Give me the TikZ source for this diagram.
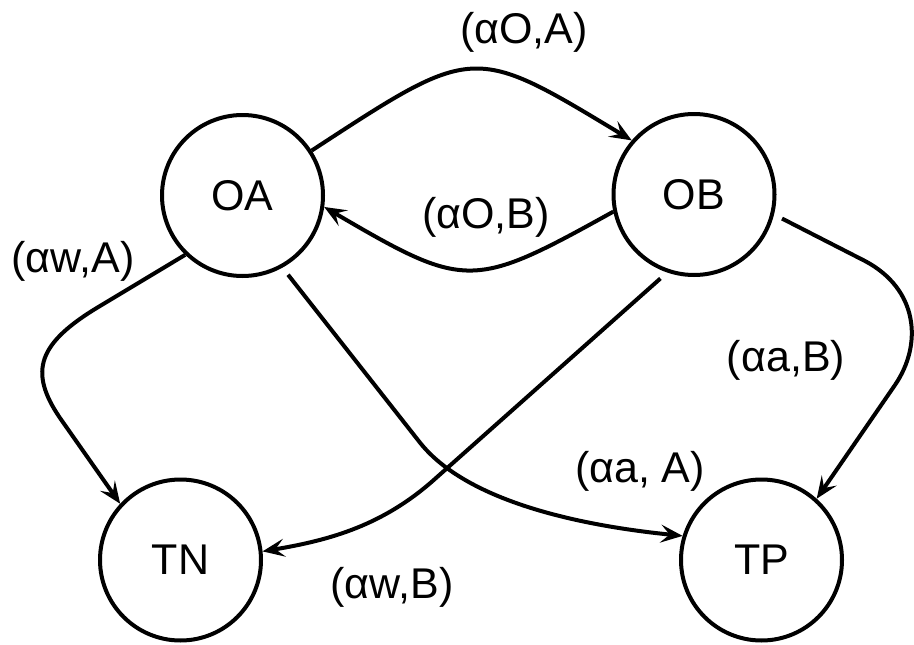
\documentclass[tikz,border=0pt]{standalone}
\usepackage{fontspec}
\setmainfont{Liberation Sans}
\usetikzlibrary{arrows.meta}
\begin{document}
\begin{tikzpicture}[x=1pt,y=-1pt,
  state/.style={circle,draw,line width=4pt,minimum size=161pt,inner sep=0pt,font=\fontsize{43}{50}\selectfont},
  lbl/.style={font=\fontsize{43}{50}\selectfont,inner sep=0pt},
  edge/.style={line width=4pt,-{Stealth[length=22pt,width=18pt,inset=9pt]}},
  gap/.style={shorten <=9pt}]
\useasboundingbox (0,0) rectangle (914,645);
\node[state] (OA) at (242.5,195.5) {OA};
\node[state] (OB) at (694,194.5) {OB};
\node[state] (TN) at (180.5,560) {TN};
\node[state] (TP) at (761.5,560) {TP};

\draw[edge] (OA.33) .. controls (475,44) and (472,44) .. (OB.139);
\draw[edge] (OB.192) .. controls (472,290) and (466,290) .. (OA.-8);
\draw[edge] (OA.226) -- (100,306) .. controls (38,343) and (28,371) .. (60,418) -- (TN.137);
\draw[edge,gap] (OA.-61) -- (419.5,442) .. controls (462.7,497) and (565,524) .. (TP.163);
\draw[edge,gap] (OB.-109) -- (436,478) .. controls (384,525) and (331,540) .. (TN.6);
\draw[edge,gap] (OB.-14) -- (865,261) .. controls (918,289) and (923,344) .. (895,385) -- (TP.48);

\node[lbl] (lOA) at (524,32) {(αO,A)};
\node[lbl] (lOB) at (486,217) {(αO,B)};
\node[lbl] (lwA) at (73,261) {(αw,A)};
\node[lbl] (laA) at (640,471) {(αa, A)};
\node[lbl] (lwB) at (392,587) {(αw,B)};
\node[lbl] (laB) at (786,360) {(αa,B)};
\end{tikzpicture}
\end{document}
